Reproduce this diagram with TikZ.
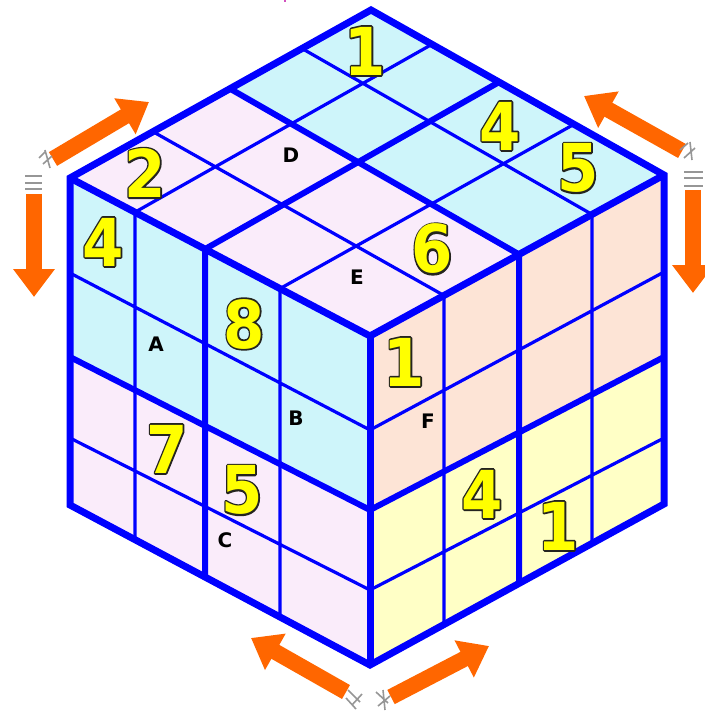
\documentclass[tikz,border=0pt]{standalone}
\usepackage{fontspec}
\usepackage{graphicx}
\setmainfont{DejaVu Sans}
\usetikzlibrary{arrows.meta}
\definecolor{cubeblue}{RGB}{0,0,255}
\definecolor{cyanf}{RGB}{206,245,250}
\definecolor{pinkf}{RGB}{250,236,250}
\definecolor{peachf}{RGB}{253,228,214}
\definecolor{yelf}{RGB}{255,255,198}
\definecolor{arrowor}{RGB}{255,102,0}
\definecolor{digyel}{RGB}{255,255,0}
\definecolor{markgray}{RGB}{150,150,150}
\definecolor{topmark}{RGB}{210,80,190}
\newcommand\olt[1]{\leavevmode\rlap{\special{pdf:literal direct 1 Tr 3.4 w 1 j 0.14 0.14 0.12 RG}#1\special{pdf:literal direct 0 Tr 0.4 w 0 j}}\textcolor{digyel}{#1}}
\newcommand\dg[1]{\scalebox{0.9}[1]{\olt{#1}}}
\tikzset{
  digitsty/.style={inner sep=0pt, font=\fontsize{66}{66}\selectfont\bfseries},
  lettersty/.style={inner sep=0pt, text=black, font=\fontsize{20}{20}\selectfont\bfseries},
  thinline/.style={draw=cubeblue, line width=3.2pt},
  thickline/.style={draw=cubeblue, line width=6pt},
  outline/.style={draw=cubeblue, line width=7pt},
  bigarrow/.style={draw=arrowor, line width=16pt, -{Triangle[length=28pt,width=40pt]}},
  graymark/.style={draw=markgray, line width=1.6pt}
}
\begin{document}
\begin{tikzpicture}[x=1pt,y=-1pt]
\useasboundingbox (0,0) rectangle (704,711);
% corners
\coordinate (T) at (371,10);
\coordinate (L) at (70,178);
\coordinate (R) at (664,175);
\coordinate (F) at (370,336);
\coordinate (LB) at (70,505);
\coordinate (RB) at (664,504);
\coordinate (FB) at (370,665);
% top face edge points
\coordinate (lf1) at (135,212.2);
\coordinate (lf2) at (205,249.1);
\coordinate (lf3) at (280,288.6);
\coordinate (tr1) at (432,44.3);
\coordinate (tr2) at (499,82.1);
\coordinate (tr3) at (574,124.3);
\coordinate (lt1) at (153,131.7);
\coordinate (lt2) at (230,88.7);
\coordinate (lt3) at (302,48.5);
\coordinate (fr1) at (444,295.5);
\coordinate (fr2) at (519,254.4);
\coordinate (fr3) at (592,214.4);
\coordinate (tc) at (intersection of lt2--fr2 and lf2--tr2);
% left face edge points
\coordinate (lb1) at (135,539.7);
\coordinate (lb2) at (205,577);
\coordinate (lb3) at (280,617);
\coordinate (ll1) at (70,273);
\coordinate (ll2) at (70,357);
\coordinate (ll3) at (70,438);
\coordinate (ff1) at (370,430);
\coordinate (ff2) at (370,510);
\coordinate (ff3) at (370,590);
\coordinate (lc) at (intersection of lf2--lb2 and ll2--ff2);
% right face edge points
\coordinate (rb1) at (444,624.5);
\coordinate (rb2) at (519,583.4);
\coordinate (rb3) at (592,543.4);
\coordinate (rr1) at (664,272);
\coordinate (rr2) at (664,357);
\coordinate (rr3) at (664,438);
\coordinate (rc) at (intersection of fr2--rb2 and ff2--rr2);
% fills top
\fill[cyanf] (lt2) -- (T) -- (tr2) -- (tc) -- cycle;
\fill[cyanf] (tc) -- (tr2) -- (R) -- (fr2) -- cycle;
\fill[pinkf] (L) -- (lt2) -- (tc) -- (lf2) -- cycle;
\fill[pinkf] (lf2) -- (tc) -- (fr2) -- (F) -- cycle;
% fills left
\fill[cyanf] (L) -- (lf2) -- (lc) -- (ll2) -- cycle;
\fill[cyanf] (lf2) -- (F) -- (ff2) -- (lc) -- cycle;
\fill[pinkf] (ll2) -- (lc) -- (lb2) -- (LB) -- cycle;
\fill[pinkf] (lc) -- (ff2) -- (FB) -- (lb2) -- cycle;
% fills right
\fill[peachf] (F) -- (fr2) -- (rc) -- (ff2) -- cycle;
\fill[peachf] (fr2) -- (R) -- (rr2) -- (rc) -- cycle;
\fill[yelf] (ff2) -- (rc) -- (rb2) -- (FB) -- cycle;
\fill[yelf] (rc) -- (rr2) -- (RB) -- (rb2) -- cycle;
% thin lines
\draw[thinline] (lt1) -- (fr1) (lt3) -- (fr3) (lf1) -- (tr1) (lf3) -- (tr3);
\draw[thinline] (lf1) -- (lb1) (lf3) -- (lb3) (ll1) -- (ff1) (ll3) -- (ff3);
\draw[thinline] (fr1) -- (rb1) (fr3) -- (rb3) (ff1) -- (rr1) (ff3) -- (rr3);
% thick lines
\draw[thickline] (lt2) -- (fr2) (lf2) -- (tr2);
\draw[thickline] (lf2) -- (lb2) (ll2) -- (ff2);
\draw[thickline] (fr2) -- (rb2) (ff2) -- (rr2);
% outline
\draw[outline] (L) -- (T) -- (R) -- (RB) -- (FB) -- (LB) -- cycle;
\draw[outline] (L) -- (F) -- (R);
\draw[outline] (F) -- (FB);
% digits top
\node[digitsty] (d1) at (365,51) {\dg{1}};
\node[digitsty] (d2) at (500,126) {\dg{4}};
\node[digitsty] (d3) at (578,168) {\dg{5}};
\node[digitsty] (d4) at (432,249) {\dg{6}};
\node[digitsty] (d5) at (145,173) {\dg{2}};
% digits left
\node[digitsty] (d6) at (103,242) {\dg{4}};
\node[digitsty] (d7) at (244,324) {\dg{8}};
\node[digitsty] (d8) at (167,449) {\dg{7}};
\node[digitsty] (d9) at (242,490) {\dg{5}};
% digits right
\node[digitsty] (d10) at (404,362) {\dg{1}};
\node[digitsty] (d11) at (482,494) {\dg{4}};
\node[digitsty] (d12) at (558,526) {\dg{1}};
% letters
\node[lettersty] (lA) at (156,344) {A};
\node[lettersty] (lB) at (296,418) {B};
\node[lettersty] (lC) at (225,540) {C};
\node[lettersty] (lD) at (291,155) {D};
\node[lettersty] (lE) at (357,277) {E};
\node[lettersty] (lF) at (428,421) {F};
% arrows
\coordinate (a1s) at (53,159);
\coordinate (a1e) at (149,102);
\coordinate (a2s) at (34,194);
\coordinate (a2e) at (34,297);
\coordinate (a3s) at (682,151);
\coordinate (a3e) at (584,96);
\coordinate (a4s) at (693,190);
\coordinate (a4e) at (693,293);
\coordinate (a5s) at (346,692);
\coordinate (a5e) at (251,638);
\coordinate (a6s) at (391,697);
\coordinate (a6e) at (489,646);
\draw[bigarrow] (a1s) -- (a1e);
\draw[bigarrow] (a2s) -- (a2e);
\draw[bigarrow] (a3s) -- (a3e);
\draw[bigarrow] (a4s) -- (a4e);
\draw[bigarrow] (a5s) -- (a5e);
\draw[bigarrow] (a6s) -- (a6e);
% small gray marks
\draw[graymark] (25,176) -- (42,176) (25,183) -- (42,183) (25,189) -- (42,189);
\draw[graymark] (39,158) -- (45,152) (43,164) -- (52,156) (45,150) -- (50,168);
\draw[graymark] (684,172) -- (703,172) (684,178) -- (703,178) (684,186) -- (703,186);
\draw[graymark] (680,150) -- (688,143) (684,158) -- (695,148) (690,142) -- (692,160);
\draw[graymark] (348,690) -- (360,702) (352,705) -- (362,694) (346,698) -- (356,709);
\draw[graymark] (376,692) -- (388,703) (378,706) -- (390,696) (383,690) -- (385,710);
\draw[topmark, line width=2pt] (285,0) -- (285,2.5);
\end{tikzpicture}
\end{document}
